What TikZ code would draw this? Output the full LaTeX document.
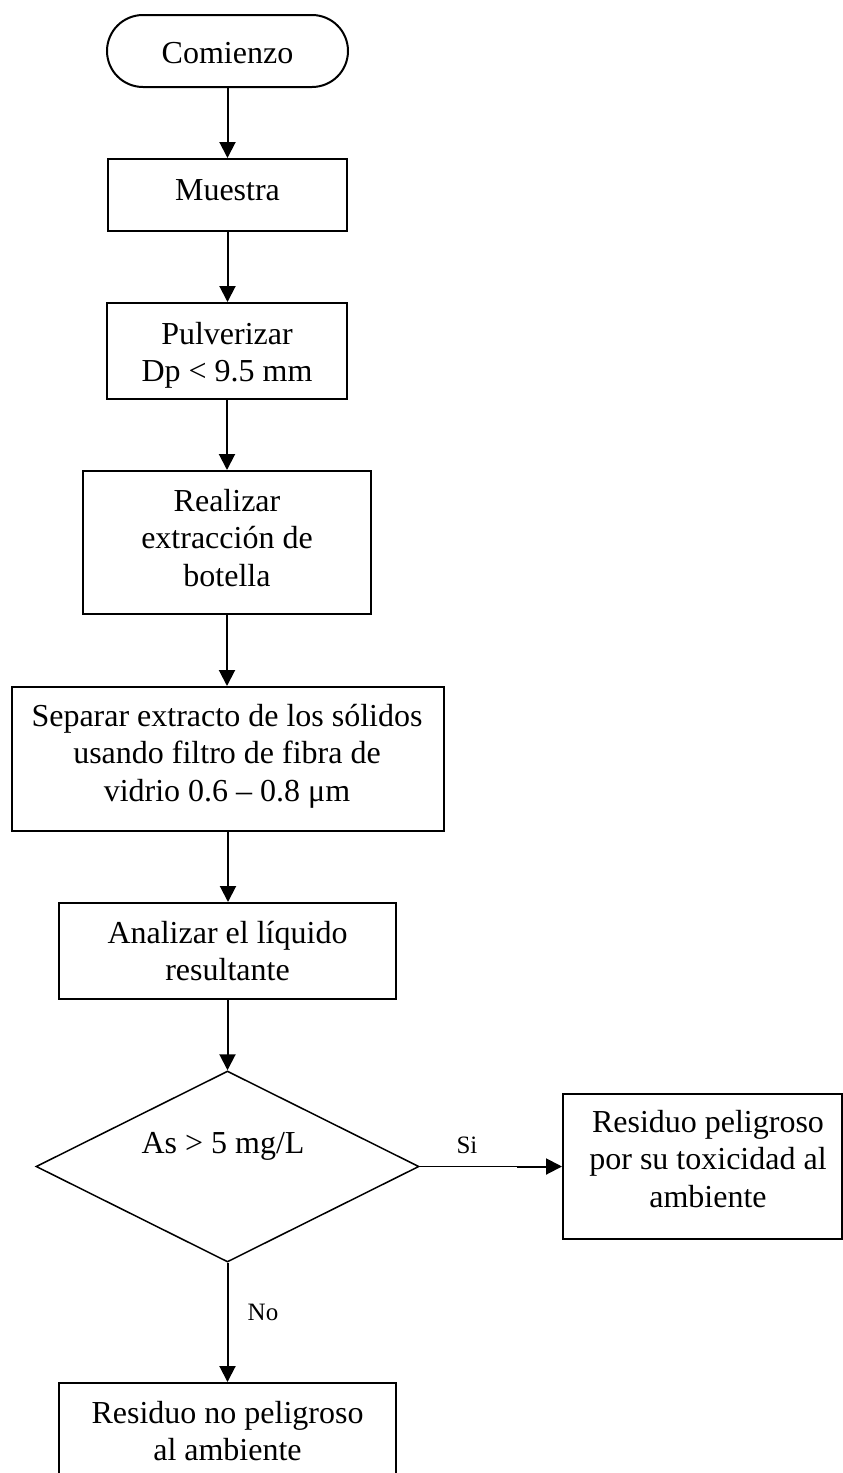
\documentclass[tikz,border=0pt]{standalone}
\usepackage{fontspec}
\setmainfont{Liberation Serif}
\usetikzlibrary{arrows.meta,shapes.geometric}
\begin{document}
\begin{tikzpicture}[x=1pt,y=-1pt,
  box/.style={draw, line width=2pt, inner sep=0pt},
  term/.style={draw, line width=2pt, inner sep=0pt, rounded corners=36pt},
  dec/.style={draw, diamond, line width=1.5pt, inner sep=0pt},
  txt/.style={inner sep=0pt, align=center, font=\fontsize{32}{37.5}\selectfont},
  lbl/.style={inner sep=0pt, font=\fontsize{25}{30}\selectfont},
  arr/.style={line width=2pt, -{Triangle[length=16pt,width=16pt]}},
  thinline/.style={line width=1.4pt}]
\useasboundingbox (0,0) rectangle (843,1473);
\clip (0,0) rectangle (843,1473);

\node[term, minimum width=241pt, minimum height=72pt] (start) at (227.5,51) {};
\node[txt, anchor=base] (tstart) at (227.5,63) {Comienzo};

\node[box, minimum width=239pt, minimum height=72pt] (muestra) at (227.5,195) {};
\node[txt, anchor=base] (tmuestra) at (227.5,200) {Muestra};

\node[box, minimum width=240pt, minimum height=96pt] (pulv) at (227,351) {};
\node[txt, anchor=north] (tpulv) at (227,322) {Pulverizar\\Dp < 9.5 mm};

\node[box, minimum width=288pt, minimum height=143pt] (real) at (227,542.5) {};
\node[txt, anchor=north] (treal) at (227,489) {Realizar\\extracción de\\botella};

\node[box, minimum width=432pt, minimum height=144pt] (sep) at (228,759) {};
\node[txt, anchor=north] (tsep) at (227,704) {Separar extracto de los sólidos\\usando filtro de fibra de\\vidrio 0.6 – 0.8 μm};

\node[box, minimum width=337pt, minimum height=96pt] (anal) at (227.5,951) {};
\node[txt, anchor=north] (tanal) at (227.5,921) {Analizar el líquido\\resultante};

\node[dec, minimum width=383pt, minimum height=191pt] (dia) at (227.5,1166.5) {};
\node[txt, anchor=base] (tdia) at (223,1153) {As > 5 mg/L};

\node[box, minimum width=279pt, minimum height=145pt] (sibox) at (702.5,1166.5) {};
\node[txt, anchor=north] (tsibox) at (708,1110) {Residuo peligroso\\por su toxicidad al\\ambiente};

\node[box, minimum width=337pt, minimum height=130pt] (nobox) at (227.5,1448) {};
\node[txt, anchor=north] (tnobox) at (227.5,1401) {Residuo no peligroso\\al ambiente};

\draw[arr] (start.south) -- (start.south |- muestra.north);
\draw[arr] (muestra.south) -- (muestra.south |- pulv.north);
\draw[arr] (pulv.south) -- (pulv.south |- real.north);
\draw[arr] (real.south) -- (real.south |- sep.north);
\draw[arr] (sep.south) -- (sep.south |- anal.north);
\draw[arr] (anal.south) -- (anal.south |- dia.north);

\coordinate (sibreak) at (517,1166.5);
\draw[thinline] (dia.east) -- (sibreak);
\draw[arr] (sibreak) -- (sibox.west);
\node[lbl, anchor=base] (si) at (467,1153) {Si};

\draw[arr] (dia.south) -- (dia.south |- nobox.north);
\node[lbl, anchor=base] (no) at (263,1320) {No};
\end{tikzpicture}
\end{document}
